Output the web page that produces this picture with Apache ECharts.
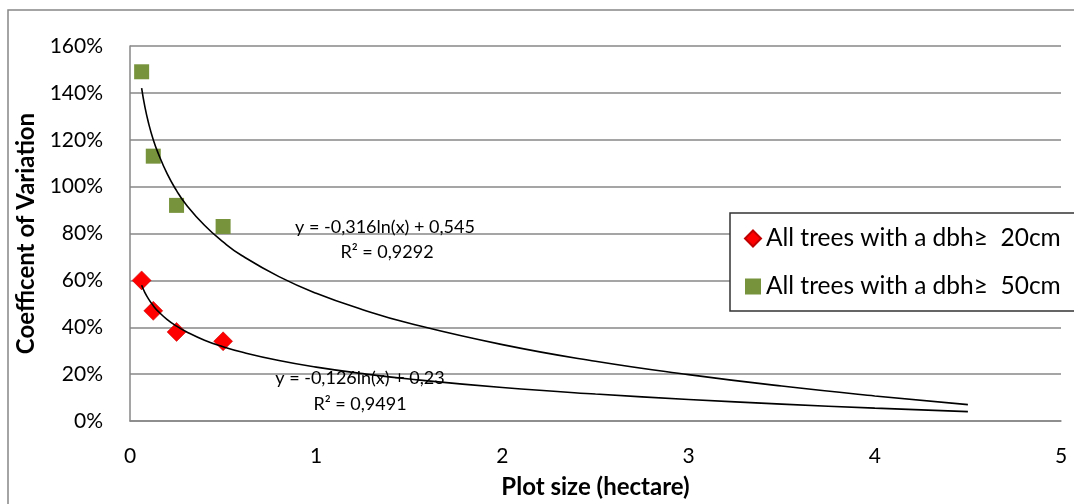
<!DOCTYPE html>
<html><head><meta charset="utf-8">
<script src="https://cdn.jsdelivr.net/npm/echarts@6/dist/echarts.min.js"></script>
<style>html,body{margin:0;padding:0;background:#fff}#c{width:1074px;height:504px}</style>
</head><body><div id="c"></div>
<script>
// Data
const plotSize = [0.0625, 0.125, 0.25, 0.5];
const cv20 = [0.60, 0.47, 0.38, 0.34];
const cv50 = [1.49, 1.13, 0.92, 0.83];
const trendX = [0.0625, 0.08, 0.1, 0.125, 0.15, 0.2, 0.25, 0.3, 0.4, 0.5, 0.6, 0.8, 1, 1.25, 1.5, 2, 2.5, 3, 3.5, 4, 4.5];
const trend50 = [1.42, 1.34, 1.27, 1.20, 1.145, 1.054, 0.983, 0.925, 0.835, 0.764, 0.706, 0.616, 0.545, 0.475, 0.417, 0.326, 0.255, 0.198, 0.149, 0.107, 0.070];
const trend20 = [0.579, 0.548, 0.52, 0.492, 0.469, 0.433, 0.405, 0.382, 0.345, 0.317, 0.294, 0.258, 0.23, 0.202, 0.179, 0.143, 0.115, 0.092, 0.072, 0.055, 0.040];
const yTicks = ['0%','20%','40%','60%','80%','100%','120%','140%','160%'];
const seriesNames = ['All trees with a dbh\u2265  20cm', 'All trees with a dbh\u2265  50cm'];
const eq50 = ['y = -0,316ln(x) + 0,545', 'R\u00b2 = 0,9292'];
const eq20 = ['y = -0,126ln(x) + 0,23', 'R\u00b2 = 0,9491'];

const pair = (xs, ys) => xs.map((x, i) => [x, ys[i]]);
const FONT = 'Lato';
const GRID = '#878787';
const chart = echarts.init(document.getElementById('c'));
const eqText = (txt, cx, cy) => ({
  type: 'text', x: cx, y: cy,
  style: { text: txt, font: '18px ' + FONT, fill: '#000', align: 'center', verticalAlign: 'middle' },
  z: 100
});
chart.setOption({
  animation: false,
  backgroundColor: '#fff',
  textStyle: { fontFamily: FONT },
  grid: { left: 130, top: 46, right: 13, bottom: 77 },
  xAxis: {
    type: 'value', min: 0, max: 5, interval: 1,
    name: 'Plot size (hectare)', nameLocation: 'middle', nameGap: 54,
    nameTextStyle: { fontSize: 24, fontWeight: 'bold', color: '#000', fontFamily: FONT },
    axisLine: { show: true, lineStyle: { color: GRID, width: 1.5 } },
    axisTick: { show: false },
    axisLabel: { fontSize: 21, color: '#000', margin: 25 },
    splitLine: { show: false }
  },
  yAxis: {
    type: 'value', min: 0, max: 1.6, interval: 0.2,
    name: 'Coefficent of Variation', nameLocation: 'middle', nameGap: 85, nameRotate: 90,
    nameTextStyle: { fontSize: 24, fontWeight: 'bold', color: '#000', fontFamily: FONT },
    axisLine: { show: true, lineStyle: { color: GRID, width: 1.5 } },
    axisTick: { show: false },
    axisLabel: { fontSize: 21, color: '#000', margin: 27,
      formatter: v => yTicks[Math.round(v / 0.2)] },
    splitLine: { show: true, lineStyle: { color: GRID, width: 1.5 } }
  },
  legend: {
    data: [{ name: seriesNames[0], icon: 'diamond' }, { name: seriesNames[1], icon: 'rect' }],
    orient: 'vertical', left: 730, top: 213,
    itemWidth: 16, itemHeight: 16, itemGap: 23,
    padding: [13, 14, 12, 14],
    backgroundColor: '#fff', borderColor: '#333', borderWidth: 1.5,
    textStyle: { fontSize: 24.5, lineHeight: 24, color: '#000', fontFamily: FONT }
  },
  series: [
    { name: 'trend50', type: 'line', data: pair(trendX, trend50), showSymbol: false, smooth: true,
      lineStyle: { color: '#000', width: 1.6 }, z: 3 },
    { name: 'trend20', type: 'line', data: pair(trendX, trend20), showSymbol: false, smooth: true,
      lineStyle: { color: '#000', width: 1.6 }, z: 3 },
    { name: seriesNames[0], type: 'scatter', data: pair(plotSize, cv20), symbol: 'diamond', symbolSize: 19,
      itemStyle: { color: '#ff0000', borderColor: '#c00000', borderWidth: 0.5, opacity: 1 }, z: 2 },
    { name: seriesNames[1], type: 'scatter', data: pair(plotSize, cv50), symbol: 'rect', symbolSize: 15,
      itemStyle: { color: '#77933c', opacity: 1 }, z: 2 }
  ],
  graphic: [
    { type: 'rect', shape: { x: 8, y: 10, width: 1080, height: 510 },
      style: { fill: 'none', stroke: GRID, lineWidth: 1.5 }, silent: true },
    eqText(eq50[0], 385, 227), eqText(eq50[1], 387, 252),
    eqText(eq20[0], 360, 378), eqText(eq20[1], 360, 404)
  ]
});
</script></body></html>
